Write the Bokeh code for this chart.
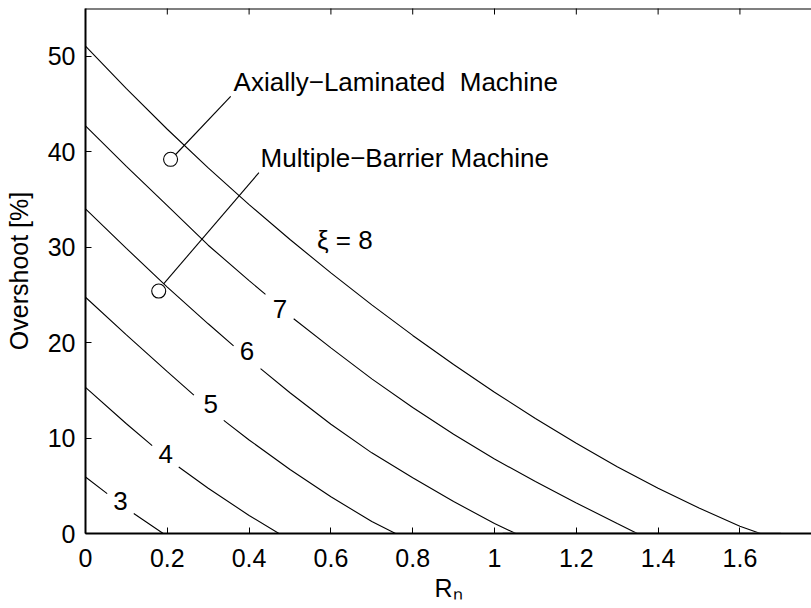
from bokeh.plotting import figure
from bokeh.models import (Range1d, FixedTicker, NumeralTickFormatter, Span)
from bokeh.core.properties import value
from bokeh.embed import file_html
from bokeh.resources import INLINE
import math

nan = float("nan")

# --- data: constant-xi curves (overshoot [%] vs R_n), NaN = label gap ---
xi8_x = [0.0, 0.1, 0.2, 0.3, 0.4, 0.5, 0.6, 0.7, 0.8, 0.9, 1.0, 1.1, 1.2, 1.3, 1.4, 1.5, 1.6, 1.65]
xi8_y = [51.05, 46.6, 42.35, 38.3, 34.45, 30.8, 27.3, 23.95, 20.75, 17.7, 14.8, 12.05,
         9.45, 7.0, 4.75, 2.67, 0.77, 0.0]
xi7_x = [0.0, 0.1, 0.2, 0.3, 0.4, 0.44, nan, 0.509, 0.6, 0.7, 0.8, 0.9, 1.0, 1.1, 1.2, 1.3, 1.349]
xi7_y = [42.7, 38.45, 34.35, 30.2, 26.5, 25.05, nan, 22.5, 19.45, 16.2, 13.2, 10.4, 7.8,
         5.45, 3.2, 1.05, 0.0]
xi6_x = [0.0, 0.1, 0.2, 0.3, 0.362, nan, 0.428, 0.5, 0.6, 0.7, 0.8, 0.9, 1.0, 1.052]
xi6_y = [34.0, 29.87, 25.82, 21.97, 19.66, nan, 17.28, 14.75, 11.45, 8.45, 5.85, 3.35, 1.05, 0.0]
xi5_x = [0.0, 0.1, 0.2, 0.265, nan, 0.338, 0.4, 0.5, 0.6, 0.7, 0.758]
xi5_y = [24.75, 20.8, 16.95, 14.5, nan, 11.85, 9.8, 6.7, 3.85, 1.25, 0.0]
xi4_x = [0.0, 0.1, 0.163, nan, 0.228, 0.3, 0.4, 0.473]
xi4_y = [15.3, 11.5, 9.2, nan, 6.97, 4.74, 1.89, 0.0]
xi3_x = [0.0, 0.053, nan, 0.118, 0.19]
xi3_y = [5.92, 4.18, nan, 2.09, 0.0]

# inline contour labels
clabel_x = [0.4755, 0.395, 0.306, 0.196, 0.0856]
clabel_y = [23.5, 19.13, 13.6, 8.32, 3.37]
clabel_text = ["7", "6", "5", "4", "3"]

# machines
machine_names = ["Axially\u2212Laminated \u00a0Machine", "Multiple\u2212Barrier Machine"]
machine_x = [0.208, 0.179]
machine_y = [39.2, 25.4]
leader_x0 = [0.218, 0.191]
leader_y0 = [39.6, 26.15]
leader_x1 = [0.355, 0.424]
leader_y1 = [45.8, 37.8]
name_x = [0.362, 0.428]
name_y = [47.3, 39.3]

xi8_label = "\u03be = 8"
xi8_label_x = 0.566
xi8_label_y = 30.8

# faint zero-level segment drawn over the x axis
zero_x = [1.02, 1.70]
zero_y = [0.0, 0.0]

x_ticks = [0, 0.2, 0.4, 0.6, 0.8, 1.0, 1.2, 1.4, 1.6, 1.8]
y_ticks = [0, 10, 20, 30, 40, 50]
x_max = 1.775
y_max = 55

FONT = "Liberation Sans"
FS = "25px"
FS_TXT = "26px"

p = figure(width=811, height=608, output_backend="svg", toolbar_location=None,
           x_range=Range1d(0, x_max), y_range=Range1d(0, y_max),
           min_border_left=85, min_border_right=0, min_border_top=8,
           min_border_bottom=75, background_fill_color="white",
           border_fill_color="white")
p.outline_line_color = None
p.grid.visible = False

for ax in (p.xaxis[0], p.yaxis[0]):
    ax.axis_line_width = 2
    ax.axis_line_color = "black"
    ax.major_tick_in = 6
    ax.major_tick_out = 0
    ax.major_tick_line_width = 1
    ax.minor_tick_line_color = None
    ax.major_label_text_font = FONT
    ax.major_label_text_font_size = FS
    ax.major_label_text_color = "black"
    ax.axis_label_text_font = FONT
    ax.axis_label_text_font_size = FS
    ax.axis_label_text_font_style = "normal"
    ax.axis_label_text_color = "black"

p.xaxis[0].ticker = FixedTicker(ticks=x_ticks)
p.xaxis[0].formatter = NumeralTickFormatter(format="0.[0]")
p.xaxis[0].major_label_standoff = 15
p.xaxis[0].axis_label = "R\u2099"
p.xaxis[0].axis_label_standoff = 4

p.yaxis[0].ticker = FixedTicker(ticks=y_ticks)
p.yaxis[0].major_label_standoff = 10
p.yaxis[0].axis_label = "Overshoot [%]"
p.yaxis[0].axis_label_standoff = 12

# top border with inward ticks (mirror of the x ticks)
p.add_layout(Span(location=y_max, dimension="width", line_color="black", line_width=2))
p.scatter(x=x_ticks, y=[y_max] * len(x_ticks), marker="dash", angle=math.pi / 2,
          size=12, line_color="black", line_width=1)

# curves
for xs, ys in [(xi8_x, xi8_y), (xi7_x, xi7_y), (xi6_x, xi6_y),
               (xi5_x, xi5_y), (xi4_x, xi4_y), (xi3_x, xi3_y)]:
    p.line(xs, ys, line_color="black", line_width=1.1)

p.line(zero_x, zero_y, line_color="#9a9a9a", line_width=2)

# contour labels
p.text(x=clabel_x, y=clabel_y, text=clabel_text, text_align="center",
       text_baseline="alphabetic", text_font=value(FONT), text_font_size=FS_TXT,
       text_color="black")

# machines
p.segment(x0=leader_x0, y0=leader_y0, x1=leader_x1, y1=leader_y1,
          line_color="black", line_width=1.1)
p.scatter(machine_x, machine_y, marker="circle", size=14, fill_color="white",
          line_color="black", line_width=1.1)
p.text(x=name_x, y=name_y, text=machine_names, text_align="left",
       text_baseline="alphabetic", text_font=value(FONT), text_font_size=FS_TXT,
       text_color="black")
p.text(x=[xi8_label_x], y=[xi8_label_y], text=[xi8_label], text_align="left",
       text_baseline="alphabetic", text_font=value(FONT), text_font_size=FS_TXT,
       text_color="black")

open("out.html", "w").write(file_html(p, INLINE))
